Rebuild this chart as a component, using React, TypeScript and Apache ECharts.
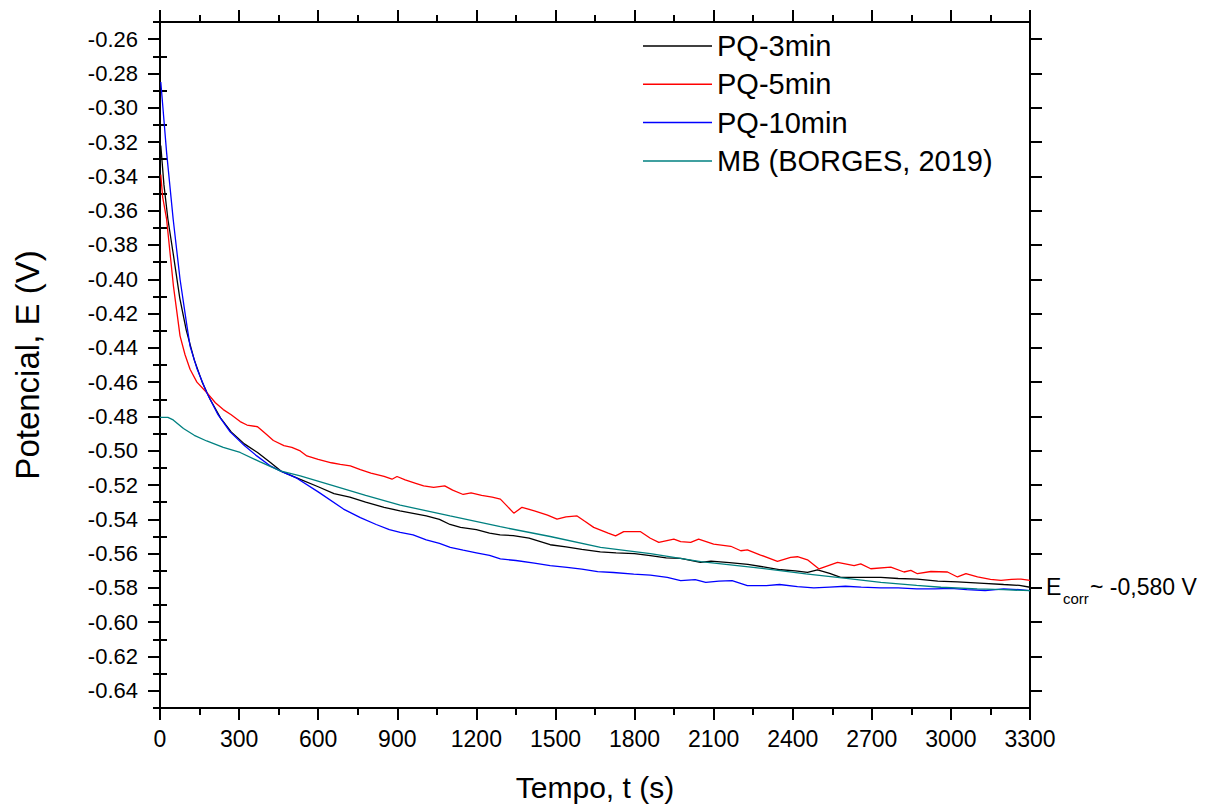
import React, { useEffect, useRef } from "react";
import * as echarts from "echarts";

const FONT = "'Liberation Sans', Arial, sans-serif";

const seriesNames = ["PQ-3min", "PQ-5min", "PQ-10min", "MB (BORGES, 2019)"];
const seriesColors = ["#000000", "#ff0000", "#0000ff", "#008080"];

const yMajorTicks = [-0.64, -0.62, -0.6, -0.58, -0.56, -0.54, -0.52, -0.5, -0.48, -0.46, -0.44, -0.42, -0.4, -0.38, -0.36, -0.34, -0.32, -0.3, -0.28, -0.26];
const yMinorTicks = [-0.65, -0.63, -0.61, -0.59, -0.57, -0.55, -0.53, -0.51, -0.49, -0.47, -0.45, -0.43, -0.41, -0.39, -0.37, -0.35, -0.33, -0.31, -0.29, -0.27, -0.25];

const tBlack = [3, 15, 30, 50, 75, 100, 130, 160, 190, 230, 270, 320, 370, 420, 460, 530, 600, 660, 720, 780, 850, 910, 960, 1010, 1060, 1100, 1140, 1200, 1250, 1290, 1340, 1400, 1480, 1540, 1600, 1670, 1730, 1800, 1860, 1920, 1975, 2050, 2090, 2160, 2230, 2300, 2354, 2410, 2456, 2494, 2540, 2582, 2650, 2734, 2800, 2873, 2950, 3025, 3125, 3200, 3260, 3300];
const vBlack = [-0.322, -0.345, -0.365, -0.385, -0.411, -0.43, -0.447, -0.46, -0.47, -0.481, -0.489, -0.496, -0.501, -0.507, -0.512, -0.5166, -0.521, -0.525, -0.527, -0.53, -0.533, -0.535, -0.5365, -0.538, -0.54, -0.543, -0.5447, -0.546, -0.548, -0.549, -0.5495, -0.551, -0.5548, -0.556, -0.5575, -0.559, -0.5595, -0.56, -0.5612, -0.5625, -0.5627, -0.5651, -0.5643, -0.5652, -0.5662, -0.568, -0.5694, -0.57, -0.5709, -0.5694, -0.5715, -0.5738, -0.5738, -0.5738, -0.5745, -0.5748, -0.576, -0.5765, -0.5773, -0.578, -0.5785, -0.5796];

const tRed = [3, 10, 25, 51, 76, 95, 114, 140, 177, 210, 240, 270, 304, 330, 370, 400, 430, 470, 500, 532, 557, 600, 650, 684, 722, 760, 800, 850, 880, 899, 930, 970, 1000, 1038, 1080, 1110, 1150, 1180, 1220, 1260, 1291, 1315, 1342, 1373, 1420, 1470, 1506, 1540, 1582, 1610, 1645, 1700, 1728, 1759, 1823, 1860, 1892, 1949, 1975, 2013, 2043, 2100, 2165, 2203, 2228, 2278, 2342, 2392, 2418, 2456, 2500, 2570, 2633, 2658, 2696, 2772, 2822, 2848, 2873, 2924, 2987, 3025, 3057, 3101, 3150, 3190, 3230, 3266, 3300];
const vRed = [-0.339, -0.352, -0.365, -0.404, -0.433, -0.444, -0.4525, -0.46, -0.466, -0.472, -0.476, -0.479, -0.483, -0.485, -0.486, -0.49, -0.494, -0.497, -0.498, -0.5001, -0.503, -0.505, -0.507, -0.508, -0.5088, -0.511, -0.513, -0.515, -0.5166, -0.515, -0.517, -0.519, -0.5205, -0.5214, -0.5205, -0.523, -0.5255, -0.5245, -0.526, -0.527, -0.5282, -0.532, -0.5364, -0.533, -0.535, -0.5375, -0.5399, -0.5385, -0.538, -0.541, -0.5447, -0.548, -0.5496, -0.5472, -0.5472, -0.551, -0.5534, -0.5515, -0.553, -0.5534, -0.5515, -0.5544, -0.5557, -0.5583, -0.5578, -0.5608, -0.5645, -0.5622, -0.5618, -0.5636, -0.5689, -0.5651, -0.567, -0.566, -0.5688, -0.5678, -0.5707, -0.5698, -0.5717, -0.5704, -0.5707, -0.5736, -0.5717, -0.5736, -0.575, -0.5756, -0.575, -0.5748, -0.5756];

const tBlue = [3, 10, 25, 50, 76, 100, 114, 140, 177, 220, 266, 320, 367, 420, 456, 519, 600, 696, 760, 820, 870, 911, 960, 1010, 1060, 1101, 1150, 1200, 1250, 1291, 1350, 1420, 1480, 1544, 1600, 1660, 1720, 1797, 1860, 1924, 1975, 2030, 2070, 2120, 2170, 2228, 2300, 2350, 2418, 2480, 2540, 2600, 2660, 2734, 2800, 2870, 2940, 3000, 3060, 3130, 3200, 3260, 3300];
const vBlue = [-0.285, -0.298, -0.326, -0.365, -0.4, -0.425, -0.439, -0.452, -0.466, -0.479, -0.489, -0.497, -0.503, -0.509, -0.5117, -0.516, -0.524, -0.534, -0.539, -0.543, -0.546, -0.5476, -0.549, -0.552, -0.554, -0.5563, -0.558, -0.5595, -0.561, -0.5631, -0.564, -0.5655, -0.567, -0.568, -0.569, -0.5705, -0.571, -0.5719, -0.5725, -0.5738, -0.5757, -0.5751, -0.5767, -0.576, -0.5757, -0.5786, -0.5786, -0.578, -0.5792, -0.58, -0.5795, -0.579, -0.5795, -0.58, -0.58, -0.5805, -0.5805, -0.5802, -0.581, -0.5815, -0.5805, -0.581, -0.5816];

const tTeal = [0, 30, 50, 89, 130, 177, 240, 304, 380, 456, 532, 650, 780, 911, 1100, 1291, 1480, 1671, 1860, 2051, 2250, 2450, 2620, 2734, 2870, 2962, 3100, 3200, 3300];
const vTeal = [-0.4805, -0.4805, -0.482, -0.487, -0.491, -0.4943, -0.498, -0.501, -0.5065, -0.5117, -0.5146, -0.52, -0.526, -0.5317, -0.538, -0.5443, -0.55, -0.5563, -0.56, -0.5647, -0.568, -0.5718, -0.5747, -0.5767, -0.5785, -0.5796, -0.5805, -0.581, -0.5816];

const seriesT = [tBlack, tRed, tBlue, tTeal];
const seriesV = [vBlack, vRed, vBlue, vTeal];

const axisLineStyle = { color: "#000", width: 2 };

export default function App() {
  const ref = useRef<HTMLDivElement>(null);
  useEffect(() => {
    document.body.style.margin = "0";
    const chart = echarts.init(ref.current!, null, { renderer: "svg" });
    const xCommon = {
      type: "value",
      min: 0,
      max: 3300,
      interval: 300,
      gridIndex: 0,
      splitLine: { show: false },
      axisLine: { show: true, onZero: false, lineStyle: axisLineStyle },
      axisTick: { show: true, inside: false, length: 12, lineStyle: { color: "#000", width: 2 } },
      minorTick: { show: true, splitNumber: 2, length: 7, lineStyle: { color: "#000", width: 2 } },
      minorSplitLine: { show: false },
    };
    const yBase = {
      type: "value",
      min: -0.65,
      max: -0.25,
      gridIndex: 0,
      splitLine: { show: false },
    };
    chart.setOption({
      animation: false,
      backgroundColor: "#fff",
      textStyle: { fontFamily: FONT },
      grid: { left: 160, top: 22, width: 870, height: 687, containLabel: false },
      legend: {
        orient: "vertical",
        left: 638,
        top: 26,
        icon: "rect",
        itemWidth: 69,
        itemHeight: 1.5,
        itemGap: 8.3,
        data: seriesNames,
        textStyle: { fontSize: 29, lineHeight: 30, color: "#000", fontFamily: FONT },
      },
      xAxis: [
        {
          ...xCommon,
          position: "bottom",
          name: "Tempo, t (s)",
          nameLocation: "middle",
          nameGap: 64,
          nameTextStyle: { fontSize: 30, color: "#000", fontFamily: FONT },
          axisLabel: { show: true, fontSize: 23, color: "#000", margin: 19, fontFamily: FONT, formatter: (v: number) => String(v) },
        },
        {
          ...xCommon,
          position: "top",
          axisLabel: { show: false },
        },
      ],
      yAxis: [
        {
          ...yBase,
          position: "left",
          name: "Potencial, E (V)",
          nameLocation: "middle",
          nameGap: 116,
          nameTextStyle: { fontSize: 33, color: "#000", fontFamily: FONT },
          axisLine: { show: true, onZero: false, lineStyle: axisLineStyle },
          axisTick: { show: true, inside: false, length: 12, customValues: yMajorTicks, lineStyle: { color: "#000", width: 2 } },
          axisLabel: {
            show: true,
            fontSize: 22,
            color: "#000",
            margin: 22,
            fontFamily: FONT,
            customValues: yMajorTicks,
            formatter: (v: number) => v.toFixed(2),
          },
        },
        {
          ...yBase,
          position: "left",
          axisLine: { show: false },
          axisTick: { show: true, inside: false, length: 7, customValues: yMinorTicks, lineStyle: { color: "#000", width: 2 } },
          axisLabel: { show: false },
        },
        {
          ...yBase,
          position: "right",
          axisLine: { show: true, onZero: false, lineStyle: axisLineStyle },
          axisTick: { show: true, inside: false, length: 12, customValues: yMajorTicks, lineStyle: { color: "#000", width: 2 } },
          axisLabel: { show: false },
        },
        {
          ...yBase,
          position: "right",
          axisLine: { show: false },
          axisTick: { show: true, inside: false, length: 7, customValues: yMinorTicks, lineStyle: { color: "#000", width: 2 } },
          axisLabel: { show: false },
        },
      ],
      series: seriesNames.map((name, i) => ({
        name,
        type: "line",
        xAxisIndex: 0,
        yAxisIndex: 0,
        showSymbol: false,
        symbol: "none",
        color: seriesColors[i],
        itemStyle: { color: seriesColors[i] },
        lineStyle: { color: seriesColors[i], width: 1.3 },
        data: seriesT[i].map((t, k) => [t, seriesV[i][k]]),
      })),
      graphic: [
        {
          type: "text",
          x: 1046,
          y: 587,
          style: { text: "E", fontSize: 23, fontFamily: FONT, fill: "#000", verticalAlign: "middle", align: "left" },
        },
        {
          type: "text",
          x: 1063,
          y: 598,
          style: { text: "corr", fontSize: 15, fontFamily: FONT, fill: "#000", verticalAlign: "middle", align: "left" },
        },
        {
          type: "text",
          x: 1090,
          y: 587,
          style: { text: "~ -0,580 V", fontSize: 23, fontFamily: FONT, fill: "#000", verticalAlign: "middle", align: "left" },
        },
      ],
    });
    return () => chart.dispose();
  }, []);
  return <div ref={ref} style={{ width: 1211, height: 807 }} />;
}
